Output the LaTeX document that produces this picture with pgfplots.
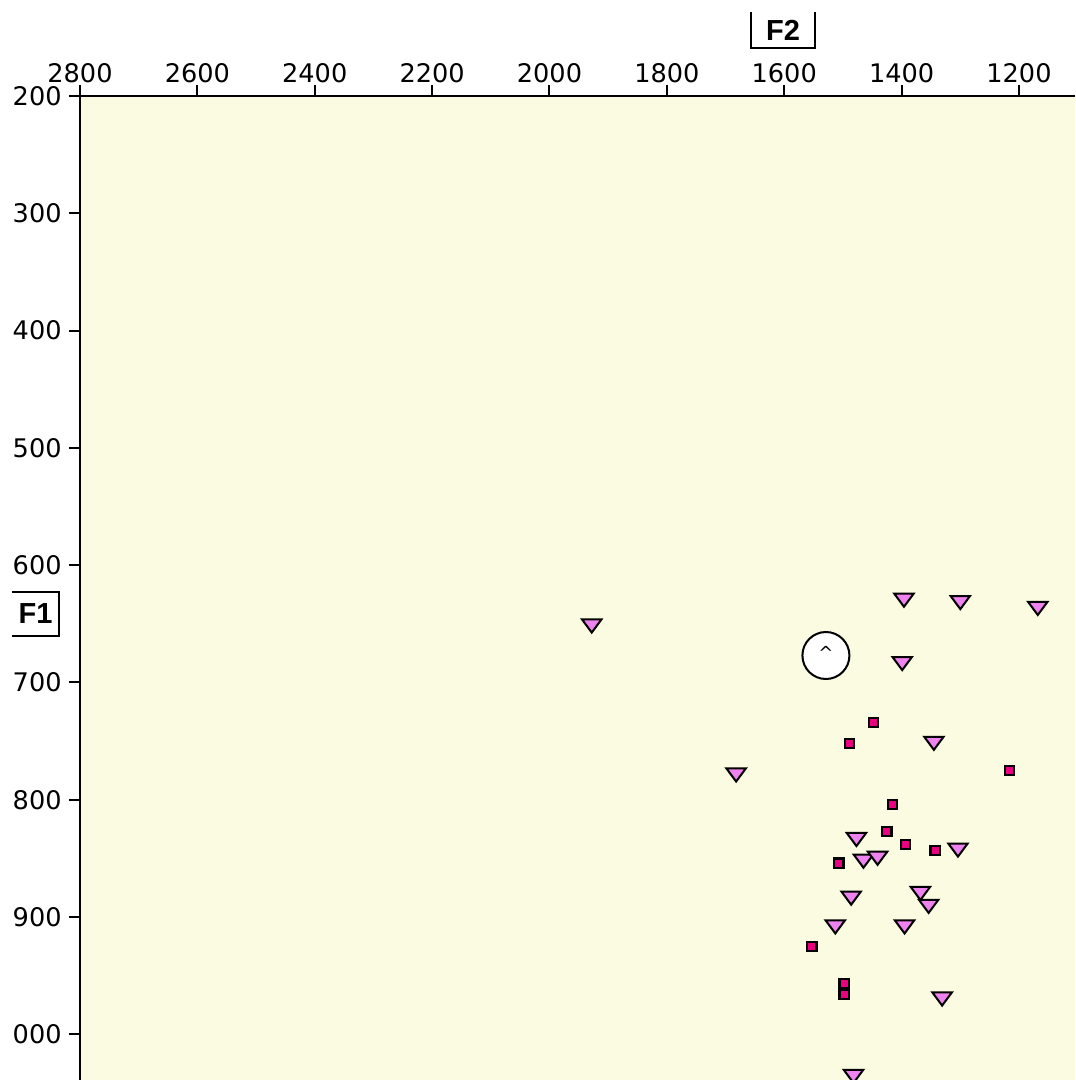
\documentclass[border=0pt]{standalone}
\usepackage{fontspec}
\setmainfont{DejaVu Sans}
\newfontfamily\labelfont{Liberation Sans}
\usepackage{pgfplots}
\pgfplotsset{compat=1.18}
\definecolor{bgyellow}{RGB}{250,251,224}
\definecolor{trifill}{RGB}{238,130,238}
\definecolor{sqfill}{RGB}{235,0,130}

\begin{document}
\begin{tikzpicture}
\useasboundingbox (-40pt,0pt) rectangle (497.5pt,540pt);
\begin{axis}[
    scale only axis, width=497.5pt, height=492pt,
    at={(0pt,0pt)}, anchor=south west,
    x dir=reverse, y dir=reverse,
    xmin=1104.6, xmax=2800, ymin=200, ymax=1038.9,
    axis x line*=top, axis y line*=left,
    axis line style={line width=1pt, black},
    axis background/.style={fill=bgyellow},
    xtick={1200,1400,...,2800},
    xticklabels={1200,1400,1600,1800,2000,2200,2400,2600,2800},
    ytick={200,300,...,1000},
    yticklabels={200,300,400,500,600,700,800,900,000},
    xtick align=outside, ytick align=outside,
    major tick length=5.5pt,
    tick style={line width=1pt, black},
    ticklabel style={font=\fontsize{12.8}{14}\selectfont},
    xticklabel style={inner sep=1pt},
    yticklabel style={inner sep=3.5pt},
    xlabel={F2}, ylabel={F1},
    xlabel style={name=f2, at={(axis description cs:0.7065,1.0671)}, anchor=center,
        font=\labelfont\bfseries\fontsize{14.5}{16}\selectfont,
        minimum width=32pt, minimum height=17.5pt, inner sep=0pt, rotate=0},
    ylabel style={name=f1, at={(axis description cs:-0.0447,0.4736)}, anchor=center,
        font=\labelfont\bfseries\fontsize{14.5}{16}\selectfont,
        minimum width=23.5pt, minimum height=21.5pt, inner sep=0pt, rotate=-90},
]
% circle
\addplot[only marks, mark=*, mark size=11.75pt,
    mark options={fill=white, draw=black, line width=1pt},
    nodes near coords={\fontsize{9}{9}\selectfont\textasciicircum},
    nodes near coords style={anchor=center, yshift=1.5pt, text=black}]
    coordinates {(1529,677)};
% triangles
\addplot[only marks, mark=triangle*, mark size=5.6pt,
    mark options={yscale=-0.78, fill=trifill, draw=black, line width=1pt}]
    table {
x y
1928 650
1396 628
1300 630
1168 635
1399 682
1345 750
1682 777
1477 832
1465 850.5
1441 848
1304 841
1486 882
1368 878
1354 889
1513 906.5
1395 906.5
1331 968
1482 1034
};
% squares
\addplot[only marks, mark=square*, mark size=2.3pt,
    mark options={fill=sqfill, draw=black, line width=1.1pt}]
    table {
x y
1448 734
1489 752
1216 775
1416 804
1425 827
1393 838
1343 843
1507 854
1553 925
1498 956.5
1498 966
};
\end{axis}
\draw[line width=1pt] (f2.north west) |- (f2.south east) -- (f2.north east);
\draw[line width=1pt] (f1.north west) -- (f1.north east) |- (f1.south west);
\end{tikzpicture}
\end{document}
